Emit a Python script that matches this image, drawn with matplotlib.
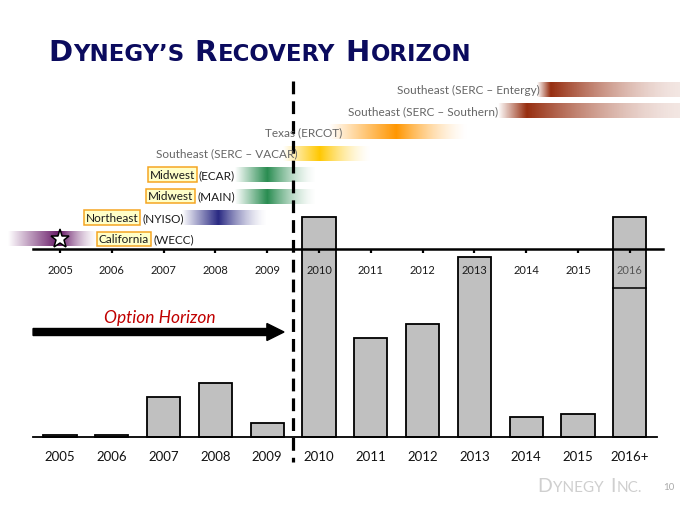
import numpy as np
import matplotlib
matplotlib.use('Agg')
import matplotlib.pyplot as plt
from matplotlib.colors import to_rgb

plt.rcParams['font.family'] = ['Lato', 'DejaVu Sans']

# bar chart data (relative heights)
bar_labels = ['2005', '2006', '2007', '2008', '2009', '2010',
              '2011', '2012', '2013', '2014', '2015', '2016+']
bar_values = [2.3, 2.3, 40, 54, 14, 220, 99, 113, 180, 20, 23, 220]
timeline_labels = ['2005', '2006', '2007', '2008', '2009', '2010',
                   '2011', '2012', '2013', '2014', '2015', '2016']

# recovery windows per region (in years)
regions = ['Southeast (SERC – Entergy)', 'Southeast (SERC – Southern)',
           'Texas (ERCOT)', 'Southeast (SERC – VACAR)', 'Midwest (ECAR)',
           'Midwest (MAIN)', 'Northeast (NYISO)', 'California (WECC)']
rec_start = [2014.2, 2013.45, 2010.2, 2009.3, 2008.38, 2008.38, 2007.35, 2004.0]
rec_peak = [2014.46, 2014.0, 2011.5, 2010.0, 2009.0, 2009.0, 2008.05, 2005.0]
rec_end = [2016.97, 2016.97, 2012.9, 2011.0, 2009.95, 2009.95, 2009.0, 2005.75]
rec_tail = [0.12, 0.12, 0, 0, 0, 0, 0, 0]
rec_colors = ['#962D0F', '#962D0F', '#FF9600', '#FFC800', '#288C50',
              '#288C50', '#282882', '#641464']
boxed = [False, False, False, False, True, True, True, True]
label_dx = [3, 0, 13, 15, 0, 0, 2, 0]
label_color = ['#666666'] * 4 + ['#1a1a1a'] * 4

fig = plt.figure(figsize=(6.8, 5.1), dpi=100)
ax = fig.add_axes([0, 0, 1, 1])
ax.axis('off')

# x: bar index, 1 unit = 51.8 px ; y: pixels above bar baseline
PX = 51.8
idx = np.arange(len(bar_values))

# bars
ax.bar(idx, bar_values, width=0.64, color='#C0C0C0', edgecolor='black',
       linewidth=1.3, zorder=2)
ax.plot([idx[-1] - 0.32, idx[-1] + 0.32], [149, 149], color='black', lw=1.1, zorder=3)
ax.plot([-0.52, 11.525], [0, 0], color='black', lw=1.3, zorder=3)
for i, lab in enumerate(bar_labels):
    ax.text(i, -19, lab, ha='center', va='center', fontsize=9.5, color='#111111')

# timeline
ax.plot([-0.52, 11.64], [188, 188], color='black', lw=1.8, zorder=4)
ax.vlines(idx, 184, 188, color='black', lw=1.6, zorder=4)
for i, lab in enumerate(timeline_labels):
    ax.text(i, 168, lab, ha='center', va='center', fontsize=8,
            color='#555555' if i == len(timeline_labels) - 1 else '#1a1a1a', zorder=5)

# recovery gradients
for r, name in enumerate(regions):
    yc = 348 - 21.4 * r
    s, p, e = rec_start[r] - 2005, rec_peak[r] - 2005, rec_end[r] - 2005
    xs = np.linspace(s, e, 400)
    alpha = np.where(xs <= p, (xs - s) / (p - s),
                     rec_tail[r] + (1 - rec_tail[r]) * ((e - xs) / (e - p)) ** 1.6)
    rgba = np.zeros((1, len(xs), 4))
    rgba[0, :, :3] = to_rgb(rec_colors[r])
    rgba[0, :, 3] = np.clip(alpha, 0, 1)
    ax.imshow(rgba, extent=(s, e, yc - 7.5, yc + 7.5), aspect='auto',
              interpolation='bilinear', zorder=1)

    box = dict(boxstyle='square,pad=0.15', fc='#FFFFC8', ec='#F5A623', lw=1.1)
    word, rest = name.split(' ', 1)
    if r == len(regions) - 1:
        t = ax.annotate(word, xy=(e, yc), xytext=(label_dx[r], 0),
                        textcoords='offset pixels', ha='left', va='center',
                        fontsize=8.5, color=label_color[r], bbox=box, zorder=6)
        ax.annotate(rest, xy=(1, yc), xycoords=(t, 'data'), xytext=(4, 0),
                    textcoords='offset pixels', ha='left', va='center',
                    fontsize=8.5, color=label_color[r], zorder=6)
    elif boxed[r]:
        t = ax.annotate(rest, xy=(s, yc), xytext=(label_dx[r], 0),
                        textcoords='offset pixels', ha='right', va='center',
                        fontsize=8.5, color=label_color[r], zorder=6)
        ax.annotate(word, xy=(0, yc), xycoords=(t, 'data'), xytext=(-4, 0),
                    textcoords='offset pixels', ha='right', va='center',
                    fontsize=8.5, color=label_color[r], bbox=box, zorder=6)
    else:
        ax.annotate(name, xy=(s, yc), xytext=(label_dx[r], 0),
                    textcoords='offset pixels', ha='right', va='center',
                    fontsize=8.5, color=label_color[r], zorder=6)

ax.plot(0, 198, marker='*', ms=14, mfc='white', mec='black', mew=1.1, zorder=7)

# option horizon divider + arrow
ax.plot([4.5, 4.5], [438 - 82, 438 - 463], color='black', lw=2.3,
        ls=(0, (4, 2.2)), zorder=5)
ax.arrow(-0.52, 105, 4.844, 0, width=7, head_width=17, head_length=0.33,
         length_includes_head=True, fc='black', ec='black', zorder=5)
ax.text(1.93, 120, 'Option Horizon', color='#C00000', style='italic',
        fontsize=12.5, ha='center', va='center')

ax.set_xlim(-60 / PX, 620 / PX)
ax.set_ylim(-72, 438)


def small_caps(parts, x, y, color, big, small, gap, **kw):
    prev = None
    for i, txt in enumerate(parts):
        size = big if i % 2 == 0 else small
        if prev is None:
            prev = ax.annotate(txt, xy=(x, y), xycoords='figure pixels',
                               ha='left', va='baseline', fontsize=size,
                               color=color, **kw)
        else:
            dx = gap if i % 2 == 0 else 1
            prev = ax.annotate(txt, xy=(1, y), xycoords=(prev, 'figure pixels'),
                               xytext=(dx, 0), textcoords='offset pixels',
                               ha='left', va='baseline', fontsize=size,
                               color=color, **kw)


small_caps(['D', 'YNEGY’S', 'R', 'ECOVERY', 'H', 'ORIZON'], 48, 449,
           '#0B0B5E', 21, 16.5, 10, family='DejaVu Sans', fontweight='bold')
small_caps(['D', 'YNEGY', 'I', 'NC.'], 537, 18, '#CFCFCF', 14, 11, 7)
fig.text(663 / 680, 20 / 510, '10', fontsize=7, color='#AAAAAA', ha='left', va='baseline')

fig.savefig('out.png', dpi=100)
